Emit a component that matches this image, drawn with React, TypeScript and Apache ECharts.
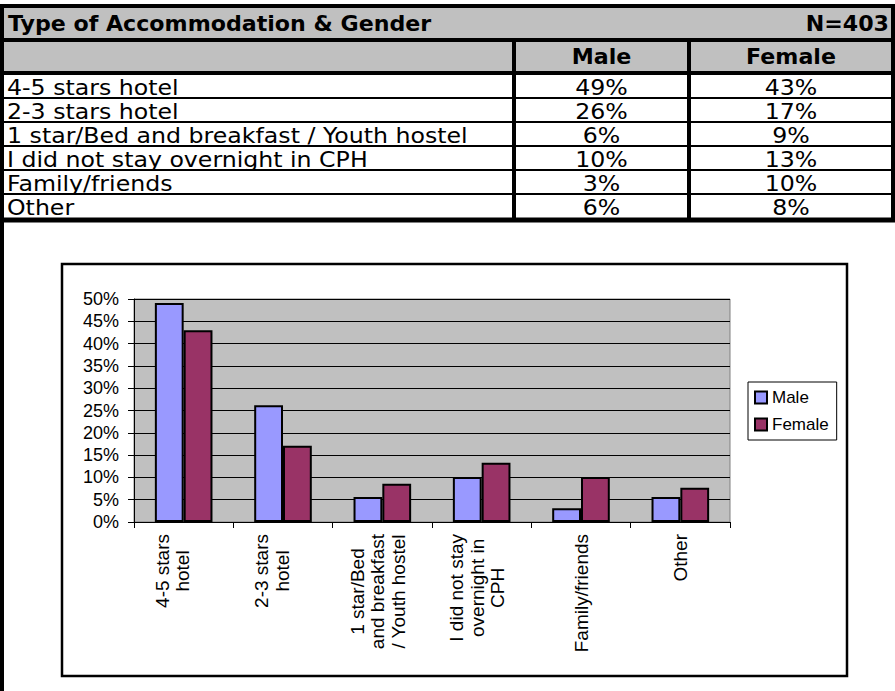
import React, { useEffect, useRef } from "react";
import * as echarts from "echarts";

const tableTitle = "Type of Accommodation & Gender";
const sampleSize = "N=403";
const seriesNames = ["Male", "Female"];
const tableLabels = [
  "4-5 stars hotel",
  "2-3 stars hotel",
  "1 star/Bed and breakfast / Youth hostel",
  "I did not stay overnight in CPH",
  "Family/friends",
  "Other",
];
const axisLabels = [
  "4-5 stars\nhotel",
  "2-3 stars\nhotel",
  "1 star/Bed\nand breakfast\n/ Youth hostel",
  "I did not stay\novernight in\nCPH",
  "Family/friends",
  "Other",
];
const maleTable = [49, 26, 6, 10, 3, 6];
const femaleTable = [43, 17, 9, 13, 10, 8];
const maleChart = [49.1, 26.2, 5.6, 10.1, 3.1, 5.6];
const femaleChart = [43.0, 17.1, 8.6, 13.3, 10.1, 7.7];
const yMin = 0;
const yMax = 50;
const yStep = 5;

const W = 895;
const H = 691;
const TFONT = '"DejaVu Sans", Verdana, sans-serif';
const CFONT = '"Liberation Sans", Arial, sans-serif';

function buildTable(): any[] {
  const els: any[] = [];
  const rowTop = 74;
  const rowH = 24;
  const nRows = tableLabels.length;
  const bottom = rowTop + rowH * nRows;
  const col1 = 514;
  const col2 = 689;
  const right = 893;
  els.push({ type: "rect", z: 0, shape: { x: 0, y: 6, width: W, height: 68 }, style: { fill: "#C0C0C0" } });
  els.push({ type: "rect", z: 0, shape: { x: 0, y: rowTop, width: right, height: bottom - rowTop }, style: { fill: "#FFFFFF" } });
  const line = (x1: number, y1: number, x2: number, y2: number, lw: number) =>
    els.push({ type: "line", z: 2, shape: { x1, y1, x2, y2 }, style: { stroke: "#000", lineWidth: lw } });
  line(0, 6, W, 6, 4);
  line(0, 40, W - 2, 40, 4);
  line(0, 73, W - 2, 73, 4);
  for (let i = 1; i < nRows; i++) line(0, rowTop + rowH * i, right, rowTop + rowH * i, 2);
  line(0, bottom + 2, W, bottom + 2, 5);
  line(2, 4, 2, H, 4);
  line(right, 4, right, bottom + 2, 4);
  line(col1, 40, col1, bottom + 2, 4);
  line(col2, 40, col2, bottom + 2, 4);
  const text = (t: string, x: number, y: number, align: string, bold: boolean) =>
    els.push({
      type: "text",
      z: 3,
      x,
      y,
      scaleX: bold ? 1.03 : 1.1,
      style: {
        text: t,
        fill: "#000",
        fontFamily: TFONT,
        fontSize: bold ? 21.5 : 21.5,
        fontWeight: bold ? "bold" : "normal",
        align,
        verticalAlign: "middle",
      },
    });
  text(tableTitle, 8, 24, "left", true);
  text(sampleSize, 889, 24, "right", true);
  const c1 = (col1 + col2) / 2;
  const c2 = (col2 + right) / 2;
  text(seriesNames[0], c1, 57, "center", true);
  text(seriesNames[1], c2, 57, "center", true);
  tableLabels.forEach((lab, i) => {
    const cy = rowTop + rowH * i + rowH / 2 + 1;
    text(lab, 7, cy, "left", false);
    text(maleTable[i] + "%", c1, cy, "center", false);
    text(femaleTable[i] + "%", c2, cy, "center", false);
  });
  els.push({
    type: "rect",
    z: 1,
    shape: { x: 62, y: 264, width: 785, height: 412 },
    style: { fill: "none", stroke: "#000", lineWidth: 2.5 },
  });
  return els;
}

// trailing spacer style per line count, so multi-line labels sit like the original
const spacerByLines: Record<number, string> = { 2: "s2", 3: "s3" };

export default function App() {
  const ref = useRef<HTMLDivElement>(null);
  useEffect(() => {
    document.body.style.margin = "0";
    const chart = echarts.init(ref.current!, null, { renderer: "svg" });
    chart.setOption({
      animation: false,
      backgroundColor: "#FFFFFF",
      textStyle: { fontFamily: CFONT },
      graphic: buildTable(),
      grid: {
        left: 134,
        top: 299,
        width: 596,
        height: 223,
        show: true,
        backgroundColor: "#C0C0C0",
        borderColor: "#808080",
        borderWidth: 1,
      },
      legend: {
        orient: "vertical",
        left: 748,
        top: 382,
        padding: [7, 8, 7, 6],
        itemGap: 10,
        itemWidth: 12,
        itemHeight: 12,
        icon: "rect",
        borderColor: "#000",
        borderWidth: 1,
        backgroundColor: "#FFFFFF",
        itemStyle: { borderColor: "#000", borderWidth: 2 },
        textStyle: { fontFamily: CFONT, fontSize: 17, color: "#000" },
        data: seriesNames,
      },
      xAxis: {
        type: "category",
        data: axisLabels,
        axisLine: { lineStyle: { color: "#000", width: 1 } },
        axisTick: { show: true, length: 6, lineStyle: { color: "#000" } },
        axisLabel: {
          rotate: 90,
          margin: 12,
          interval: 0,
          formatter: (v: string) => {
            const lines = v.split("\n");
            const sp = spacerByLines[lines.length];
            const body = lines.map((l) => `{c|${l}}`).join("\n");
            return sp ? `${body}\n{${sp}| }` : body;
          },
          rich: {
            c: { align: "center", fontFamily: CFONT, fontSize: 19, lineHeight: 20.5, color: "#000" },
            s2: { align: "center", fontFamily: CFONT, fontSize: 4, lineHeight: 22 },
            s3: { align: "center", fontFamily: CFONT, fontSize: 4, lineHeight: 9 },
          },
        },
        splitLine: { show: false },
      },
      yAxis: {
        type: "value",
        min: yMin,
        max: yMax,
        interval: yStep,
        axisLine: { show: true, lineStyle: { color: "#000", width: 1 } },
        axisTick: { show: true, length: 6, lineStyle: { color: "#000" } },
        axisLabel: {
          margin: 15,
          fontFamily: CFONT,
          fontSize: 18,
          color: "#000",
          formatter: (v: number) => `${v}%`,
        },
        splitLine: { show: true, lineStyle: { color: "#000", width: 1 } },
      },
      series: [
        {
          name: seriesNames[0],
          type: "bar",
          data: maleChart,
          barGap: "0%",
          barCategoryGap: "42%",
          itemStyle: { color: "#9999FF", borderColor: "#000", borderWidth: 2 },
        },
        {
          name: seriesNames[1],
          type: "bar",
          data: femaleChart,
          barGap: "0%",
          barCategoryGap: "42%",
          itemStyle: { color: "#993366", borderColor: "#000", borderWidth: 2 },
        },
      ],
    });
    return () => chart.dispose();
  }, []);
  return <div ref={ref} style={{ position: "absolute", left: 0, top: 0, width: W, height: H }} />;
}
